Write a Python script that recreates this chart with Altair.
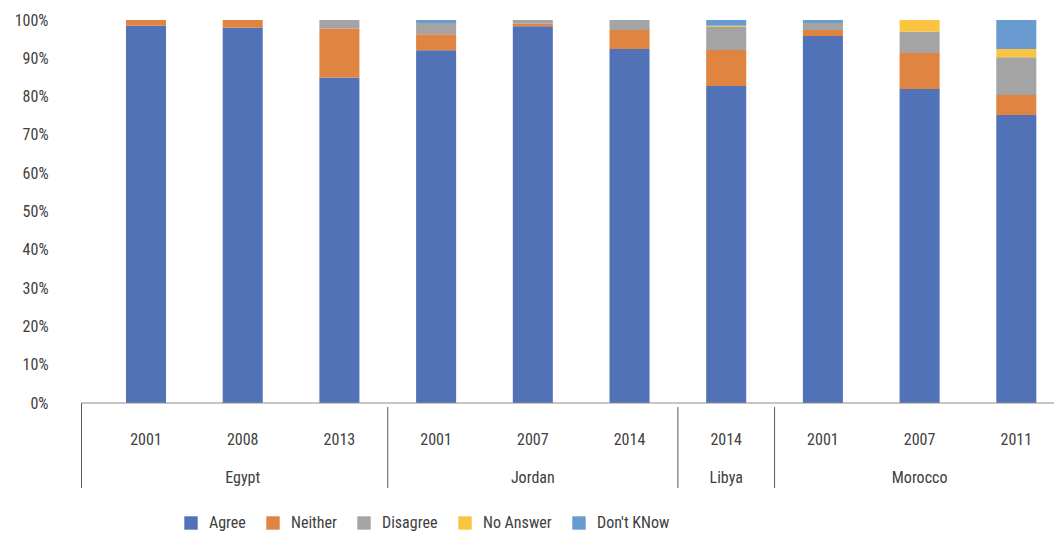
import altair as alt
import pandas as pd

countries = ["Egypt", "Egypt", "Egypt", "Jordan", "Jordan", "Jordan", "Libya", "Morocco", "Morocco", "Morocco"]
years = ["2001", "2008", "2013", "2001", "2007", "2014", "2014", "2001", "2007", "2011"]
responses = ["Agree", "Neither", "Disagree", "No Answer", "Don't KNow"]
colors = ["#5272b8", "#e08441", "#a3a4a3", "#f9c440", "#699bd0"]

agree = [98.5, 98.0, 85.0, 92.2, 98.4, 92.4, 82.8, 95.8, 82.0, 75.2]
neither = [1.5, 2.0, 12.8, 4.2, 0.6, 5.0, 9.4, 1.6, 9.4, 5.2]
disagree = [0.0, 0.0, 2.2, 2.9, 1.0, 2.6, 6.0, 1.8, 5.5, 9.9]
no_answer = [0.0, 0.0, 0.0, 0.0, 0.0, 0.0, 0.35, 0.0, 3.1, 2.1]
dont_know = [0.0, 0.0, 0.0, 0.8, 0.0, 0.0, 1.5, 0.8, 0.0, 7.6]

groups = ["Egypt", "Jordan", "Libya", "Morocco"]

keys = [f"{c}|{y}" for c, y in zip(countries, years)]
series = [agree, neither, disagree, no_answer, dont_know]

rows = []
for ri, (r, vals) in enumerate(zip(responses, series)):
    for k, c, y, v in zip(keys, countries, years, vals):
        rows.append({"key": k, "country": c, "year": y, "response": r, "idx": ri, "value": v})
df = pd.DataFrame(rows)

labels_df = pd.DataFrame({"key": keys, "year": years})

# group label at middle member, separators at first member of each group (except first)
grp_mid, grp_first = [], []
for g in groups:
    members = [k for k, c in zip(keys, countries) if c == g]
    grp_mid.append(members[len(members) // 2])
    grp_first.append(members[0])
group_df = pd.DataFrame({"key": grp_mid, "country": groups})
sep_df = pd.DataFrame({"key": grp_first[1:]})

W, H = 973, 383
n = len(keys)
p_in, p_out, align = 0.586, 0.324, 0.718
step = W / (n - p_in + 2 * p_out)
gap = step * p_in

FONT = "Roboto Condensed, Liberation Sans Narrow, Roboto, sans-serif"
FS = 16
TXT = "#404040"

xscale = alt.Scale(domain=keys, paddingInner=p_in, paddingOuter=p_out, align=align)

bars = alt.Chart(df).mark_bar().encode(
    x=alt.X("key:N", sort=keys, scale=xscale, axis=None),
    y=alt.Y("value:Q", stack="normalize",
            scale=alt.Scale(domain=[0, 1]),
            axis=alt.Axis(format=".0%", values=[i / 10 for i in range(11)], title=None,
                          domain=False, ticks=False, grid=False, labelPadding=33,
                          labelFont=FONT, labelFontSize=FS, labelColor=TXT)),
    color=alt.Color("response:N", scale=alt.Scale(domain=responses, range=colors),
                    legend=alt.Legend(title=None, orient="none", legendX=102, legendY=495,
                                      direction="horizontal", columns=5,
                                      symbolType="square", symbolSize=180,
                                      symbolStrokeWidth=0, labelFont=FONT,
                                      labelFontSize=FS, labelColor=TXT,
                                      labelOffset=10, columnPadding=19)),
    order=alt.Order("idx:Q", sort="ascending"),
)

year_text = alt.Chart(labels_df).mark_text(font=FONT, fontSize=FS, color=TXT, baseline="middle").encode(
    x=alt.X("key:N", sort=keys, scale=xscale, axis=None),
    y=alt.value(H + 37),
    text="year:N",
)

group_text = alt.Chart(group_df).mark_text(font=FONT, fontSize=FS, color=TXT, baseline="middle").encode(
    x=alt.X("key:N", sort=keys, scale=xscale, axis=None),
    y=alt.value(H + 75),
    text="country:N",
)

baseline = alt.Chart(pd.DataFrame({"a": [0]})).mark_rule(color="#8c8c8c", strokeWidth=1).encode(
    x=alt.value(0), x2=alt.value(W), y=alt.value(H)
)

left_line = alt.Chart(pd.DataFrame({"a": [0]})).mark_rule(color="#5a5a5a", strokeWidth=1).encode(
    x=alt.value(0.5), y=alt.value(H), y2=alt.value(H + 85)
)

seps = alt.Chart(sep_df).mark_rule(color="#5a5a5a", strokeWidth=1, xOffset=-gap / 2).encode(
    x=alt.X("key:N", sort=keys, scale=xscale, axis=None, bandPosition=0),
    y=alt.value(H + 4), y2=alt.value(H + 85),
)

chart = alt.layer(bars, year_text, group_text, baseline, left_line, seps).properties(
    width=W, height=H,
    autosize=alt.AutoSizeParams(type="none"),
    padding={"left": 73, "top": 12, "right": 0, "bottom": 129},
).configure_view(stroke=None)

chart.save("out.html", embed_options={"renderer": "svg", "actions": False})
